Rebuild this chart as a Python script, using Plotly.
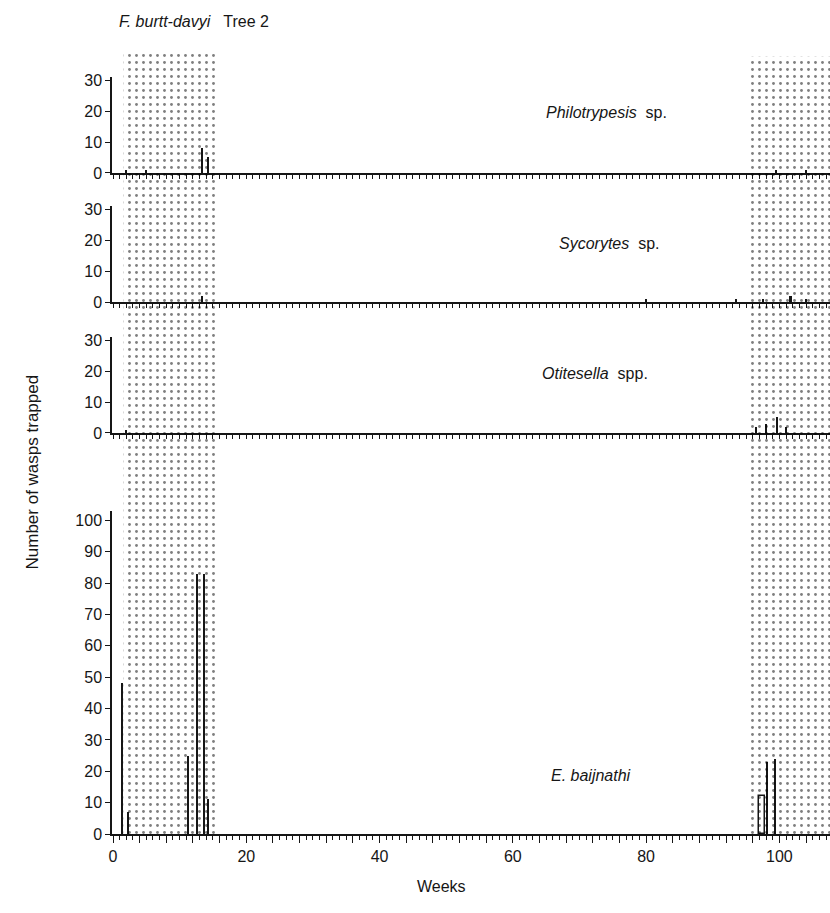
import plotly.graph_objects as go

# Weekly trap counts of fig wasps, F. burtt-davyi tree 2
week_max = 107.6
shade_periods = [(1.6, 15.6, 1.0), (95.4, 107.6, 0.994)]   # start week, end week, top

philo_weeks = [2.0, 5.0, 13.4, 14.3, 99.5, 104.0]
philo_counts = [1, 1, 8, 5, 1, 1]

syco_weeks = [13.4, 80.0, 93.5, 97.5, 101.7, 104.0]
syco_counts = [2, 1, 1, 1, 2, 1]

otite_weeks = [2.0, 96.5, 98.0, 99.6, 101.0]
otite_counts = [1, 2, 3, 5, 2]

balj_weeks = [1.3, 2.2, 11.3, 12.6, 13.7, 14.3, 98.2, 99.4]
balj_counts = [48, 7, 25, 83, 83, 11, 23, 24]
balj_open_weeks = [97.4]
balj_open_counts = [12]

panel_names = ["<i>Philotrypesis</i>  sp.", "<i>Sycorytes</i>  sp.",
               "<i>Otitesella</i>  spp.", "<i>E. baijnathi</i>"]
small_yticks = [0, 10, 20, 30]
big_yticks = [0, 10, 20, 30, 40, 50, 60, 70, 80, 90, 100]
xtick_vals = list(range(0, 108, 4))
xtick_text = [str(v) if v % 20 == 0 else "" for v in xtick_vals]

FONT = "Liberation Sans, Arial, sans-serif"
INK = "#161616"

fig = go.Figure()

# dotted shading behind all four panels
for a, b, top in shade_periods:
    fig.add_trace(go.Scatter(
        x=[a, a, b, b, a], y=[0, top, top, 0, 0], mode="lines",
        line=dict(width=0), fill="toself", fillcolor="rgba(0,0,0,0)",
        fillpattern=dict(shape=".", size=7, solidity=0.13, fgcolor="black",
                         bgcolor="rgba(0,0,0,0)"),
        xaxis="x5", yaxis="y5", hoverinfo="skip", showlegend=False))

series = [(philo_weeks, philo_counts), (syco_weeks, syco_counts),
          (otite_weeks, otite_counts), (balj_weeks, balj_counts)]
for i, (wk, ct) in enumerate(series):
    sfx = "" if i == 0 else str(i + 1)
    fig.add_trace(go.Bar(x=wk, y=ct, width=0.3, marker=dict(color=INK, line=dict(width=0)),
                         xaxis="x" + sfx, yaxis="y" + sfx, showlegend=False))

fig.add_trace(go.Bar(x=balj_open_weeks, y=balj_open_counts, width=0.9,
                     marker=dict(color="rgba(0,0,0,0)", line=dict(color=INK, width=1.5)),
                     xaxis="x4", yaxis="y4", showlegend=False))

# panel domains (paper fractions), top to bottom
domains = [[0.8453, 0.9680], [0.6803, 0.8031], [0.5128, 0.6355], [0.0, 0.413]]
label_pos = [(74.0, 19.4), (74.4, 19.0), (72.3, 19.2), (71.8, 18.8)]

layout = dict(
    width=830, height=913,
    margin=dict(l=112, r=0, t=52, b=79),
    paper_bgcolor="white", plot_bgcolor="rgba(0,0,0,0)",
    font=dict(family=FONT, size=16, color=INK),
    bargap=0, barmode="overlay",
)

for i in range(4):
    sfx = "" if i == 0 else str(i + 1)
    last = i == 3
    layout["xaxis" + sfx] = dict(
        domain=[0, 1], range=[-0.15, week_max], anchor="y" + sfx,
        showline=True, linecolor=INK, linewidth=1.5, showgrid=False, zeroline=False,
        ticks="outside", ticklen=7 if last else 5, tickwidth=1.2, tickcolor=INK,
        tickmode="array", tickvals=xtick_vals,
        ticktext=xtick_text if last else [""] * len(xtick_vals),
        showticklabels=last,
        tickfont=dict(size=16),
        minor=dict(ticks="outside", dtick=1, tick0=0, ticklen=4, tickwidth=1, tickcolor=INK),
    )
    layout["yaxis" + sfx] = dict(
        domain=domains[i], range=[0, 103 if last else 31], anchor="x" + sfx,
        showline=True, linecolor=INK, linewidth=1.5, showgrid=False, zeroline=False,
        ticks="outside", ticklen=5, tickwidth=1.2, tickcolor=INK,
        tickmode="array", tickvals=big_yticks if last else small_yticks,
        tickfont=dict(size=16),
    )

layout["xaxis5"] = dict(domain=[0, 1], range=[-0.15, week_max], anchor="y5", visible=False)
layout["yaxis5"] = dict(domain=[0, 1], range=[0, 1], anchor="x5", visible=False)

annotations = []
for i, (name, (lx, ly)) in enumerate(zip(panel_names, label_pos)):
    sfx = "" if i == 0 else str(i + 1)
    annotations.append(dict(text=name, x=lx, y=ly, xref="x" + sfx, yref="y" + sfx,
                            showarrow=False, xanchor="center", yanchor="middle",
                            font=dict(size=16)))

# plot area spans x 112..830 px and y 52..834 px of the page
annotations += [
    dict(text="<i>F. burtt-davyi</i>   Tree 2", x=(117 - 112) / 718, y=(834 - 22) / 782,
         xref="paper", yref="paper", showarrow=False, xanchor="left", yanchor="middle",
         font=dict(size=16)),
    dict(text="Weeks", x=(441 - 112) / 718, y=(834 - 897) / 782, xref="paper",
         yref="paper", showarrow=False, font=dict(size=16)),
    dict(text="Number of wasps trapped", textangle=-90, x=(20 - 112) / 718,
         y=(834 - 472) / 782, xref="paper", yref="paper", showarrow=False,
         font=dict(size=17)),
]
layout["annotations"] = annotations
fig.update_layout(**layout)

fig.write_html("out.html")
